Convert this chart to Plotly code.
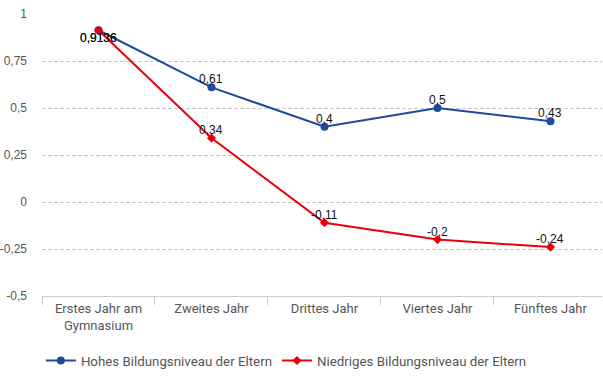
import plotly.graph_objects as go

categories = ["Erstes Jahr am<br>Gymnasium", "Zweites Jahr", "Drittes Jahr", "Viertes Jahr", "Fünftes Jahr"]
hohes = [0.9136, 0.61, 0.40, 0.50, 0.43]
niedriges = [0.9136, 0.34, -0.11, -0.20, -0.24]
hohes_labels = ["0,9136", "0,61", "0,4", "0,5", "0,43"]
niedriges_labels = ["0,9136", "0,34", "-0,11", "-0,2", "-0,24"]
label_side = [-1, 1, 1, 1, 1]  # -1 = below the point, 1 = above
ytickvals = [1, 0.75, 0.5, 0.25, 0, -0.25, -0.5]
yticktext = ["1", "0,75", "0,5", "0,25", "0", "-0,25", "-0,5"]

COND = "Roboto, Liberation Sans Narrow, sans-serif"
SANS = "Liberation Sans, Arial, sans-serif"
BLUE = "#1F4A9C"
RED = "#E8000D"

fig = go.Figure()
fig.add_trace(go.Scatter(
    x=categories, y=hohes, mode="lines+markers",
    name="Hohes Bildungsniveau der Eltern",
    line=dict(color=BLUE, width=2),
    marker=dict(color=BLUE, size=8, symbol="circle"),
    cliponaxis=False,
))
fig.add_trace(go.Scatter(
    x=categories, y=niedriges, mode="lines+markers",
    name="Niedriges Bildungsniveau der Eltern",
    line=dict(color=RED, width=2),
    marker=dict(color=RED, size=7, symbol="diamond"),
    cliponaxis=False,
))

annotations = []
for vals, labels in ((hohes, hohes_labels), (niedriges, niedriges_labels)):
    for c, v, t, s in zip(categories, vals, labels, label_side):
        annotations.append(dict(
            x=c, y=v, text=t, showarrow=False, yshift=8 * s,
            xanchor="center", yanchor="middle",
            font=dict(color="#111", size=12, family=SANS),
        ))

fig.update_layout(
    width=603, height=378,
    margin=dict(l=42, r=1, t=14, b=82, autoexpand=False),
    paper_bgcolor="white", plot_bgcolor="white",
    font=dict(family=COND, size=13, color="#555"),
    showlegend=True,
    annotations=annotations,
    legend=dict(orientation="h", x=-0.002, xanchor="left", y=-0.23, yanchor="middle",
                font=dict(size=13.3, color="#555", family=COND), itemwidth=30),
    xaxis=dict(
        range=[-0.5, 4.456], automargin=False,
        showgrid=False, showline=True, linecolor="#ccc", linewidth=1,
        ticks="outside", tickson="boundaries", ticklen=8, tickcolor="#ccc",
        tickfont=dict(size=13, color="#555", family=COND), zeroline=False,
    ),
    yaxis=dict(
        range=[-0.5, 1], tickvals=ytickvals, ticktext=yticktext, automargin=False,
        showgrid=True, gridcolor="#c8c8c8", griddash="4px,2px", gridwidth=1,
        zeroline=False, showline=False,
        tickfont=dict(size=12, color="#555", family=SANS), ticks="",
        ticklabelstandoff=14, ticklabeloverflow="allow",
    ),
)

fig.write_html("out.html", config={"displayModeBar": False},
               post_script="document.body.style.margin='0';")
